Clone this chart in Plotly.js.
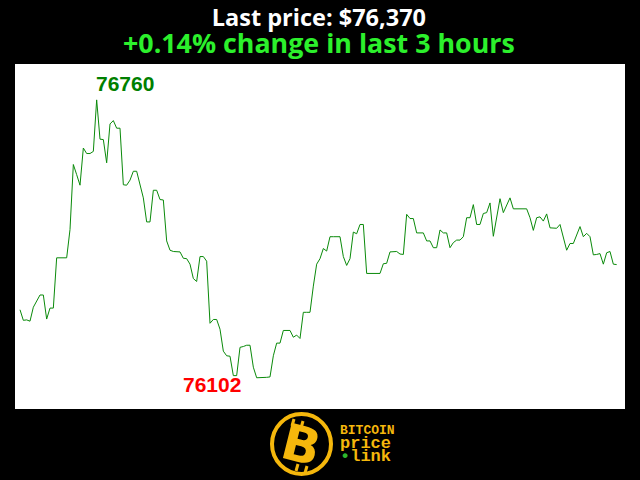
<!DOCTYPE html>
<html>
<head>
<meta charset="utf-8">
<script src="https://cdn.plot.ly/plotly-3.0.1.min.js"></script>
<style>
html,body{margin:0;padding:0;background:#000;}
#chart{width:640px;height:480px;}
</style>
</head>
<body>
<div id="chart"></div>
<script>
// Bitcoin price, one value per minute over the last 3 hours (USD)
const prices = [
76263,76238,76239,76236,76269,76283,76298,76298,76241,76267,
76267,76386,76386,76386,76386,76453,76607,76583,76558,76646,
76633,76633,76638,76760,76667,76666,76611,76703,76711,76693,
76693,76559,76558,76570,76591,76591,76559,76528,76471,76471,
76546,76546,76524,76523,76426,76404,76401,76400,76400,76385,
76384,76371,76337,76330,76389,76389,76378,76231,76240,76240,
76217,76165,76154,76153,76107,76107,76174,76176,76179,76179,
76127,76102,76102,76102,76103,76104,76154,76184,76184,76214,
76214,76214,76198,76203,76195,76257,76257,76257,76319,76371,
76384,76408,76402,76436,76436,76436,76436,76389,76368,76384,
76447,76443,76465,76465,76349,76349,76349,76349,76349,76372,
76373,76400,76400,76401,76395,76394,76489,76479,76479,76445,
76445,76445,76426,76426,76410,76410,76452,76445,76445,76410,
76422,76428,76428,76436,76481,76481,76512,76465,76465,76491,
76493,76516,76437,76482,76526,76493,76510,76528,76502,76502,
76502,76502,76502,76481,76451,76481,76483,76473,76490,76457,
76456,76456,76465,76434,76404,76420,76420,76440,76460,76436,
76444,76436,76393,76394,76396,76371,76398,76401,76371,76370
];
const periodLabel = "last 3 hours";
const logoWords = ["BITCOIN", "price", "link"];

const minuteIdx = prices.map((_, i) => i);
const maxVal = Math.max(...prices);
const minVal = Math.min(...prices);
const maxIdx = prices.indexOf(maxVal);
const minDipIdx = 64;
const lastVal = prices[prices.length - 1];
const pct = (lastVal - prices[0]) / prices[0] * 100;
const pctText = (pct >= 0 ? "+" : "") + pct.toFixed(2) + "% change in " + periodLabel;
const priceText = "Last price: $" + lastVal.toLocaleString("en-US");

const gold = "#f5b70c";
// helpers: pixel -> paper coordinates (plot area 15..625 x, 64..409 y)
const px = v => (v - 15) / 610;
const py = v => (409 - v) / 345;

const trace = {
  x: minuteIdx, y: prices, type: "scatter", mode: "lines",
  line: {color: "#0a8a0a", width: 1}, hoverinfo: "skip"
};

const layout = {
  width: 640, height: 480,
  margin: {l: 15, r: 15, t: 64, b: 71, pad: 0},
  paper_bgcolor: "#000000", plot_bgcolor: "#ffffff",
  showlegend: false,
  xaxis: {visible: false, range: [-1.5, 181.5], fixedrange: true},
  yaxis: {visible: false, range: [76028, 76845], fixedrange: true},
  shapes: [
    {type: "circle", xref: "paper", yref: "paper",
     x0: px(272), x1: px(331), y0: py(474), y1: py(414),
     line: {color: gold, width: 4}, fillcolor: "#000"},
    {type: "line", xref: "paper", yref: "paper", x0: px(292), x1: px(294), y0: py(426), y1: py(419), line: {color: gold, width: 3}},
    {type: "line", xref: "paper", yref: "paper", x0: px(301), x1: px(303), y0: py(428), y1: py(421), line: {color: gold, width: 3}},
    {type: "line", xref: "paper", yref: "paper", x0: px(296), x1: px(298), y0: py(471), y1: py(464), line: {color: gold, width: 3}},
    {type: "line", xref: "paper", yref: "paper", x0: px(305), x1: px(307), y0: py(473), y1: py(466), line: {color: gold, width: 3}}
  ],
  annotations: [
    {xref: "paper", yref: "paper", x: px(319), y: py(-1), xanchor: "center", yanchor: "top",
     showarrow: false,
     text: "<b><span style='font-size:23.5px'>" + priceText + "</span><br>" +
           "<span style='font-size:26.8px;fill:#2cf02c'>" + pctText + "</span></b>",
     font: {family: "Open Sans", size: 20.8, color: "#ffffff"}},
    {x: maxIdx, y: maxVal, xanchor: "left", yanchor: "bottom", showarrow: false,
     xshift: -3, yshift: 3,
     text: "<b>" + maxVal + "</b>", font: {family: "Liberation Sans", size: 21, color: "#008000"}},
    {x: minDipIdx, y: prices[minDipIdx], xanchor: "right", yanchor: "top", showarrow: false,
     xshift: 10, yshift: 5,
     text: "<b>" + minVal + "</b>", font: {family: "Liberation Sans", size: 21, color: "#ff0000"}},
    {xref: "paper", yref: "paper", x: px(301), y: py(445), xanchor: "center", yanchor: "middle",
     textangle: 14, showarrow: false,
     text: "<b>B</b>", font: {family: "DejaVu Sans", size: 50, color: gold}},
    {xref: "paper", yref: "paper", x: px(338), y: py(421), xanchor: "left", yanchor: "top", showarrow: false,
     align: "left",
     text: "<b><span style='font-size:13px'>" + logoWords[0] + "</span><br>" +
           "<span style='font-size:17px'>" + logoWords[1] + "</span><br>" +
           "<span style='font-size:17px'><span style='fill:#2db82d'>•</span>" + logoWords[2] + "</span></b>",
     font: {family: "Liberation Mono", size: 10.5, color: gold}}
  ]
};

Plotly.newPlot("chart", [trace], layout, {staticPlot: true, displayModeBar: false});
</script>
</body>
</html>
